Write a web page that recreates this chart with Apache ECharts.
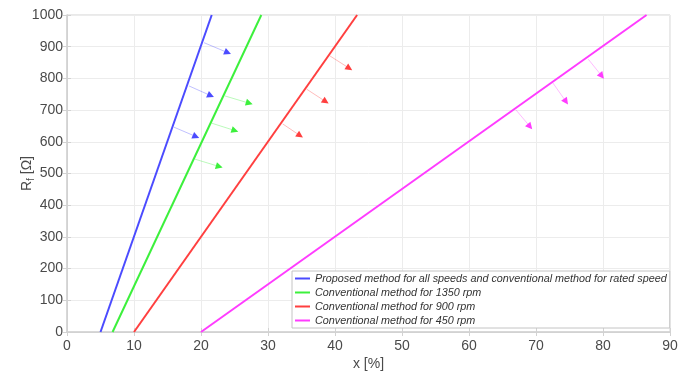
<!DOCTYPE html>
<html>
<head>
<meta charset="utf-8">
<script src="https://cdn.jsdelivr.net/npm/echarts@6/dist/echarts.min.js"></script>
<style>
  html, body { margin: 0; padding: 0; background: #fff; }
  #chart { width: 687px; height: 372px; }
</style>
</head>
<body>
<div id="chart"></div>
<script>
// Boundary lines: [x %, Rf Ω] end points
var seriesNames = [
  'Proposed method for all speeds and conventional method for rated speed',
  'Conventional method for 1350 rpm',
  'Conventional method for 900 rpm',
  'Conventional method for 450 rpm'
];
var proposedLine = [[5.0, 0], [21.6, 1000]];
var conv1350Line = [[6.8, 0], [29.0, 1000]];
var conv900Line  = [[10.0, 0], [43.3, 1000]];
var conv450Line  = [[20.0, 0], [86.5, 1000]];

// Region arrows: [[x start, Rf start], [x end, Rf end]]
var proposedArrows = [
  [[20.45, 912.7], [23.99, 881.2]],
  [[18.21, 776.2], [21.45, 745.7]],
  [[15.97, 646.1], [19.25, 616.5]]
];
var conv1350Arrows = [
  [[23.58, 744.6], [27.21, 721.7]],
  [[21.60, 658.7], [25.07, 635.4]],
  [[19.10, 545.2], [22.73, 521.9]]
];
var conv900Arrows = [
  [[39.25, 870.8], [42.13, 832.0]],
  [[35.78, 765.8], [38.61, 726.8]],
  [[32.19, 656.5], [34.78, 619.6]]
];
var conv450Arrows = [
  [[77.81, 860.4], [79.81, 807.8]],
  [[72.49, 786.6], [74.48, 726.8]],
  [[67.01, 700.6], [69.10, 648.0]]
];

var xTicks = { min: 0, max: 90, interval: 10 };
var yTicks = { min: 0, max: 1000, interval: 100 };

var colors = ['#4b4bff', '#3cf03c', '#ff3f3f', '#ff3cff'];
var lineData = [proposedLine, conv1350Line, conv900Line, conv450Line];
var arrowData = [proposedArrows, conv1350Arrows, conv900Arrows, conv450Arrows];

var labelColor = '#4a4a4a';
var font = 'Liberation Sans, Arial, sans-serif';
var frameColor = '#d2d2d2';

var series = [];
lineData.forEach(function (pts, i) {
  series.push({
    name: seriesNames[i],
    type: 'line',
    data: pts,
    showSymbol: false,
    symbol: 'none',
    color: colors[i],
    lineStyle: { width: 2, color: colors[i] },
    z: 3
  });
});
arrowData.forEach(function (arrows, i) {
  var d = arrows.map(function (a) { return { coords: a }; });
  // pale shafts
  series.push({
    type: 'lines',
    coordinateSystem: 'cartesian2d',
    data: d,
    symbol: 'none',
    lineStyle: { color: colors[i], width: 1, opacity: 0.35, curveness: 0 },
    silent: true,
    z: 2
  });
  // solid heads
  series.push({
    type: 'lines',
    coordinateSystem: 'cartesian2d',
    data: d,
    symbol: ['none', 'triangle'],
    symbolSize: 7,
    lineStyle: { color: colors[i], width: 0, opacity: 1, curveness: 0 },
    silent: true,
    z: 2
  });
});

function plainNumber(v) { return String(v); }

var chart = echarts.init(document.getElementById('chart'), null, { renderer: 'canvas' });
chart.setOption({
  animation: false,
  backgroundColor: '#ffffff',
  textStyle: { fontFamily: font },
  grid: {
    left: 67, top: 15, right: 17, bottom: 40,
    containLabel: false,
    outerBoundsMode: 'none',
    show: true, borderColor: frameColor, borderWidth: 1, backgroundColor: '#fff'
  },
  legend: {
    data: seriesNames,
    orient: 'vertical',
    left: 292,
    top: 271,
    padding: [1, 3, 1, 3],
    itemGap: 1,
    itemWidth: 15,
    itemHeight: 2,
    icon: 'rect',
    backgroundColor: '#ffffff',
    borderColor: '#c4c4c4',
    borderWidth: 1,
    borderRadius: 0,
    textStyle: {
      fontFamily: font, fontStyle: 'italic', fontSize: 10.8,
      color: '#333333', lineHeight: 13
    }
  },
  xAxis: [{
    type: 'value',
    min: xTicks.min, max: xTicks.max, interval: xTicks.interval,
    name: 'x [%]',
    nameLocation: 'middle',
    nameGap: 25,
    nameMoveOverlap: false,
    nameTextStyle: { fontSize: 14, color: labelColor, fontFamily: font },
    axisLine: { show: true, lineStyle: { color: frameColor, width: 1.5 } },
    axisTick: { show: true, inside: true, length: 4, lineStyle: { color: frameColor } },
    axisLabel: { fontSize: 14, color: labelColor, margin: 7, fontFamily: font, formatter: plainNumber },
    splitLine: { show: true, lineStyle: { color: '#ececec', width: 1 } }
  }, {
    type: 'value', position: 'top',
    min: xTicks.min, max: xTicks.max, interval: xTicks.interval,
    axisLine: { show: true, lineStyle: { color: frameColor } },
    axisTick: { show: true, inside: true, length: 4, lineStyle: { color: frameColor } },
    axisLabel: { show: false },
    splitLine: { show: false }
  }],
  yAxis: [{
    type: 'value',
    min: yTicks.min, max: yTicks.max, interval: yTicks.interval,
    name: '{r|R}{s|f}{r| [Ω]}',
    nameLocation: 'middle',
    nameGap: 31,
    nameMoveOverlap: false,
    nameTextStyle: {
      color: labelColor, fontFamily: font,
      rich: {
        r: { fontSize: 14, color: labelColor, fontFamily: font },
        s: { fontSize: 10, color: labelColor, fontFamily: font, padding: [8, 0, 0, 0] }
      }
    },
    axisLine: { show: true, lineStyle: { color: frameColor, width: 1.5 } },
    axisTick: { show: true, inside: true, length: 4, lineStyle: { color: frameColor } },
    axisLabel: { fontSize: 14, color: labelColor, margin: 4, fontFamily: font, formatter: plainNumber },
    splitLine: { show: true, lineStyle: { color: '#ececec', width: 1 } }
  }, {
    type: 'value', position: 'right',
    min: yTicks.min, max: yTicks.max, interval: yTicks.interval,
    axisLine: { show: true, lineStyle: { color: frameColor } },
    axisTick: { show: true, inside: true, length: 4, lineStyle: { color: frameColor } },
    axisLabel: { show: false },
    splitLine: { show: false }
  }],
  series: series
});
</script>
</body>
</html>
